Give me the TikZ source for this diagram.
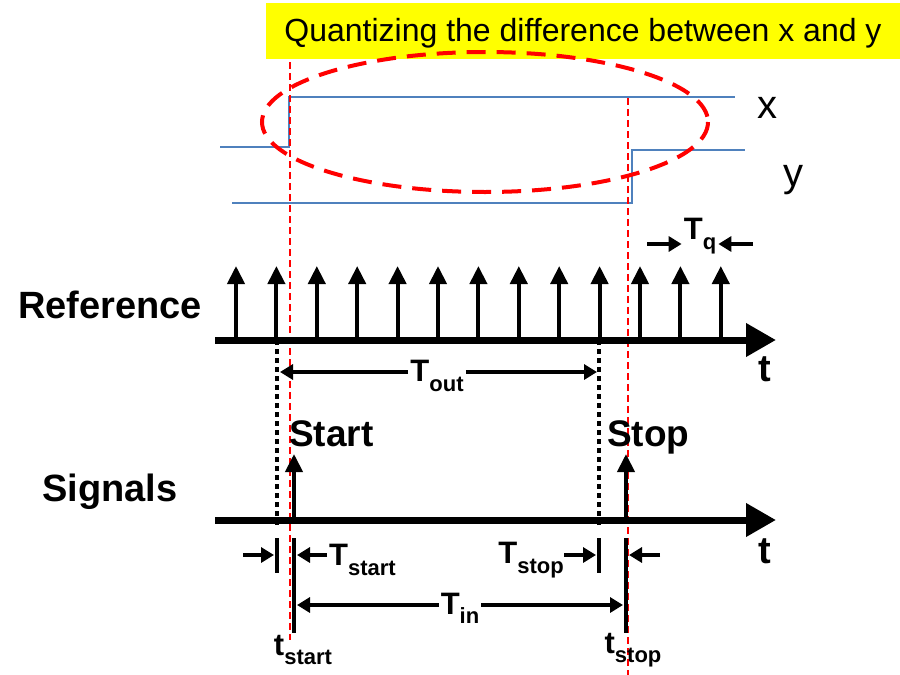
\documentclass[tikz,border=0pt]{standalone}
\usepackage{fontspec}
\setmainfont{Liberation Sans}
\usetikzlibrary{arrows.meta}
\definecolor{sigblue}{HTML}{4F81BD}
\definecolor{markred}{HTML}{FF0000}
\definecolor{titleyellow}{HTML}{FFFF00}
\newcommand{\sublab}[2]{#1\raisebox{-0.3em}{\fontsize{22}{24}\selectfont #2}}
\tikzset{
  pulse/.style={line width=4pt, -{Triangle[length=18pt,width=17pt]}},
  axisline/.style={line width=7pt, -{Triangle[length=30pt,width=32pt]}},
  dimarrow/.style={line width=3.5pt, -{Triangle[length=13pt,width=15pt]}},
  tickline/.style={line width=3.5pt},
  dotline/.style={line width=4pt, dash pattern=on 5pt off 4pt},
  redline/.style={markred, line width=1.2pt, dash pattern=on 7pt off 4pt},
  wave/.style={sigblue, line width=1.4pt},
  lbl/.style={font=\fontsize{38}{42}\selectfont\bfseries, inner sep=0pt},
  tlbl/.style={font=\fontsize{31}{34}\selectfont\bfseries, inner sep=2pt},
}
\begin{document}
\begin{tikzpicture}[x=1pt, y=-1pt]
    \useasboundingbox (0,0) rectangle (900,675);
    \def\dx{40.4}
    % title
    \fill[titleyellow] (266,3) rectangle (900,59);
    \node[font=\fontsize{32}{36}\selectfont, inner sep=0pt] (title) at (583,33) {Quantizing the difference between x and y};
    % x and y waveforms
    \draw[wave] (220,147) -- (289,147) -- (289,97) -- (735,97);
    \draw[wave] (232,203) -- (632,203) -- (632,150) -- (745,150);
    \node[font=\fontsize{40}{44}\selectfont, inner sep=0pt] (xlab) at (767,108) {x};
    \node[font=\fontsize{40}{44}\selectfont, inner sep=0pt] (ylab) at (793,180) {y};
    \draw[markred, line width=4pt, dash pattern=on 19pt off 11pt] (485,122) ellipse [x radius=223, y radius=70];
    % red markers
    \draw[redline] (290,62) -- (290,640);
    \draw[redline] (628,98) -- (628,675);
    % Reference
    \node[lbl, anchor=west] (ref) at (18,305) {Reference};
    \coordinate (ra) at (215,340);
    \coordinate (rb) at (776,340);
    \foreach \i in {0,...,12} {
        \draw[pulse] (236+\i*\dx,342) -- (236+\i*\dx,266);
    }
    \draw[axisline] (ra) -- (rb);
    \node[lbl] (t1) at (765,369) {t};
    % Tq
    \node[tlbl] (tq) at (700,236) {\sublab{T}{q}};
    \draw[dimarrow] (647,244) -- (tq.west |- 0,244);
    \draw[dimarrow] (753,244) -- (tq.east |- 0,244);
    % dotted references
    \draw[dotline] (277,340) -- (277,525);
    \draw[dotline] (599,340) -- (599,525);
    % Tout
    \node[tlbl] (tout) at (437,376) {\sublab{T}{out}};
    \draw[dimarrow] (tout.west |- 0,372) -- (280,372);
    \draw[dimarrow] (tout.east |- 0,372) -- (597,372);
    % Signals
    \node[lbl, anchor=west] (sig) at (42,492) {Signals};
    \coordinate (sa) at (215,520);
    \coordinate (sb) at (776,520);
    \draw[pulse] (294,522) -- (294,454);
    \draw[pulse] (626,522) -- (626,454);
    \draw[axisline] (sa) -- (sb);
    \node[lbl] (t2) at (765,551) {t};
    \node[lbl, font=\fontsize{37}{40}\selectfont\bfseries, anchor=base west] (start) at (289,446) {Start};
    \node[lbl, font=\fontsize{37}{40}\selectfont\bfseries, anchor=base west] (stop) at (607,446) {Stop};
    % ticks
    \draw[tickline] (277,538) -- (277,573);
    \draw[tickline] (294,538) -- (294,633);
    \draw[tickline] (599,538) -- (599,573);
    \draw[tickline] (626,538) -- (626,633);
    % Tstart and Tstop
    \draw[dimarrow] (243,555) -- (274,555);
    \draw[dimarrow] (327,555) -- (297,555);
    \node[tlbl, anchor=west] (tstart) at (327,560) {\sublab{T}{start}};
    \node[tlbl, anchor=east] (tstop) at (566,560) {\sublab{T}{stop}};
    \draw[dimarrow] (564,555) -- (596,555);
    \draw[dimarrow] (660,555) -- (629,555);
    % Tin
    \node[tlbl] (tin) at (460,608) {\sublab{T}{in}};
    \draw[dimarrow] (tin.west |- 0,605) -- (297,605);
    \draw[dimarrow] (tin.east |- 0,605) -- (623,605);
    % time labels
    \node[tlbl] (ts) at (303,650) {\sublab{t}{start}};
    \node[tlbl] (tp) at (633,650) {\sublab{t}{stop}};
\end{tikzpicture}
\end{document}
